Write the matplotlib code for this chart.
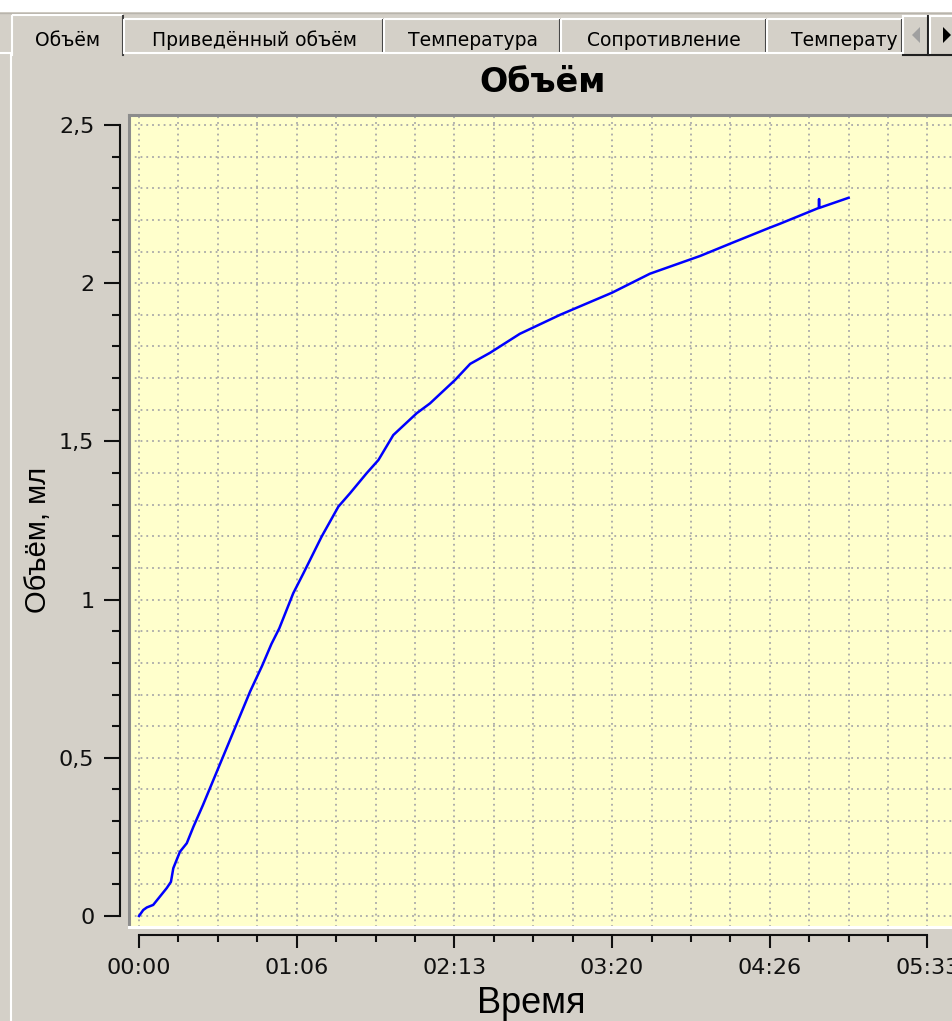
import numpy as np
import matplotlib
matplotlib.use("Agg")
import matplotlib.pyplot as plt
from matplotlib.patches import Rectangle, Polygon
from matplotlib.lines import Line2D
from matplotlib.ticker import FixedLocator, FixedFormatter

W, H = 952, 1021

# время, мин (ось подписана как чч:мм с шагом 66,67 мин) и объём, мл
time_min = [0.0, 1.8, 3.3, 6.0, 11.7, 13.5, 14.5, 17.3, 20.2, 23.0,
            27.0, 32.0, 37.0, 42.0, 47.0, 52.0, 56.0, 59.3, 65.2, 69.5,
            77.2, 84.3, 89.2, 96.3, 101.2, 107.5, 117.4, 123.0, 133.6, 140.0,
            148.4, 161.0, 178.0, 200.0, 216.0, 237.2, 250.6, 266.5, 271.0, 287.4,
            287.5, 287.6, 300.0]
volume_ml = [0.0, 0.019, 0.027, 0.035, 0.088, 0.108, 0.151, 0.203, 0.23, 0.282,
             0.35, 0.44, 0.53, 0.62, 0.71, 0.79, 0.86, 0.909, 1.02, 1.083,
             1.199, 1.294, 1.336, 1.40, 1.441, 1.52, 1.589, 1.62, 1.694, 1.745,
             1.78, 1.84, 1.90, 1.97, 2.03, 2.086, 2.127, 2.175, 2.188, 2.238,
             2.266, 2.238, 2.27]

x_major = [0, 200 / 3, 400 / 3, 200, 800 / 3, 1000 / 3]
x_labels = ["00:00", "01:06", "02:13", "03:20", "04:26", "05:33"]
y_major = [0, 0.5, 1, 1.5, 2, 2.5]
y_labels = ["0", "0,5", "1", "1,5", "2", "2,5"]

tab_names = ["Объём", "Приведённый объём", "Температура", "Сопротивление", "Температу"]
tab_edges = [12, 124, 384, 561, 767, 903]

BG = "#D4D0C8"


def fx(x):
    return x / W


def fy(y):
    return 1 - y / H


fig = plt.figure(figsize=(W / 100, H / 100), dpi=100, facecolor=BG)

# --- окно с вкладками ---
fig.patches.append(Rectangle((0, fy(12)), 1, 12 / H, transform=fig.transFigure,
                             facecolor="white", edgecolor="none"))
fig.lines.append(Line2D([0, 1], [fy(13), fy(13)], transform=fig.transFigure,
                        color="#B8B4AC", lw=1))


def fig_line(xs, ys, color, lw=1.0):
    fig.lines.append(Line2D([fx(v) for v in xs], [fy(v) for v in ys],
                            transform=fig.transFigure, color=color, lw=lw))


for i, name in enumerate(tab_names):
    x0, x1 = tab_edges[i], tab_edges[i + 1]
    top = 15 if i == 0 else 19
    bot = 55 if i == 0 else 52
    fig.patches.append(Rectangle((fx(x0), fy(bot)), (x1 - x0) / W, (bot - top) / H,
                                 transform=fig.transFigure, facecolor=BG,
                                 edgecolor="none"))
    fig_line([x0, x0], [bot, top + 1], "white", 1.5)
    fig_line([x0 + 1, x1 - 2], [top, top], "white", 1.5)
    fig_line([x1 - 1, x1 - 1], [top + 1, bot], "#404040", 1.5)
    if i < len(tab_names) - 1:
        fig.text(fx((x0 + x1) / 2), fy(40), name, ha="center", va="center",
                 fontsize=13.5, color="black")
    else:
        fig.text(fx(791), fy(40), name, ha="left", va="center",
                 fontsize=13.5, color="black")

fig_line([124, 903], [53, 53], "white", 1.5)
fig_line([0, 12], [53, 53], "white", 1.5)
fig_line([11, 11], [55, H], "white", 1.5)

# кнопки прокрутки вкладок
for bx0, bx1 in [(903, 929), (930, 955)]:
    fig.patches.append(Rectangle((fx(bx0), fy(54)), (bx1 - bx0) / W, 38 / H,
                                 transform=fig.transFigure, facecolor=BG,
                                 edgecolor="none"))
    fig_line([bx0, bx0], [54, 16], "white", 1.5)
    fig_line([bx0, bx1], [16, 16], "white", 1.5)
    fig_line([bx1 - 1, bx1 - 1], [16, 55], "#202020", 1.5)
    fig_line([bx0, bx1], [55, 55], "#202020", 1.5)
fig.patches.append(Polygon([(fx(920), fy(27)), (fx(920), fy(43)), (fx(912), fy(35))],
                           closed=True, transform=fig.transFigure,
                           facecolor="#A0A0A0", edgecolor="none"))
fig.patches.append(Polygon([(fx(943), fy(27)), (fx(943), fy(43)), (fx(951), fy(35))],
                           closed=True, transform=fig.transFigure,
                           facecolor="black", edgecolor="none"))

# --- график ---
ax = fig.add_axes([fx(129), fy(927), (965 - 129) / W, (927 - 115) / H])
ax.set_facecolor("#FFFFCC")
ax.plot(time_min, volume_ml, color="#0000FF", lw=1.8, zorder=3)

ax.set_xlim(-4.23, 349.2)
ax.set_ylim(-0.0348, 2.5316)

ax.xaxis.set_major_locator(FixedLocator(x_major))
ax.xaxis.set_major_formatter(FixedFormatter(x_labels))
ax.xaxis.set_minor_locator(FixedLocator([m * 50 / 3 for m in range(21) if m % 4]))
ax.yaxis.set_major_locator(FixedLocator(y_major))
ax.yaxis.set_major_formatter(FixedFormatter(y_labels))
ax.yaxis.set_minor_locator(FixedLocator([m / 10 for m in range(26) if m % 5]))

ax.set_axisbelow(True)
ax.grid(which="both", color="#A8A8A8", linestyle=(0, (1, 2.2)), lw=1.3)

for s in ["top", "right"]:
    ax.spines[s].set_visible(False)
ax.spines["left"].set_position(("outward", 6.5))
ax.spines["left"].set_bounds(0, 2.5)
ax.spines["bottom"].set_position(("outward", 5.8))
ax.spines["bottom"].set_bounds(0, 1000 / 3)
for s in ["left", "bottom"]:
    ax.spines[s].set_linewidth(1.5)
    ax.spines[s].set_color("#101010")

ax.tick_params(axis="y", which="major", length=11.5, width=1.5, pad=7,
               labelsize=16, colors="#101010")
ax.tick_params(axis="y", which="minor", length=5.8, width=1.5, colors="#101010")
ax.tick_params(axis="x", which="major", length=9.4, width=1.5, pad=7,
               labelsize=16, colors="#101010")
ax.tick_params(axis="x", which="minor", length=5, width=1.5, colors="#101010")

# вдавленная рамка области построения
ax.add_line(Line2D([0, 0], [0, 1], transform=ax.transAxes, color="#8C8C8C",
                   lw=2.2, clip_on=False, zorder=5))
ax.add_line(Line2D([0, 1], [1, 1], transform=ax.transAxes, color="#8C8C8C",
                   lw=2.2, clip_on=False, zorder=5))
ax.add_line(Line2D([0, 1], [0, 0], transform=ax.transAxes, color="white",
                   lw=2.2, clip_on=False, zorder=5))

ax.set_xlabel("Время", fontsize=26, family=["Liberation Sans", "DejaVu Sans"])
ax.set_ylabel("Объём, мл", fontsize=21, family=["Liberation Sans", "DejaVu Sans"])
ax.xaxis.label.set_va("center")
ax.yaxis.label.set_va("center")
ax.xaxis.set_label_coords((531 - 129) / 836, (927 - 1003) / 812)
ax.yaxis.set_label_coords((38 - 129) / 836, (927 - 540) / 812)

fig.text(fx(543), fy(82), "Объём", ha="center", va="center",
         fontsize=24, fontweight="bold")

fig.savefig("out.png", dpi=100, facecolor=BG)
